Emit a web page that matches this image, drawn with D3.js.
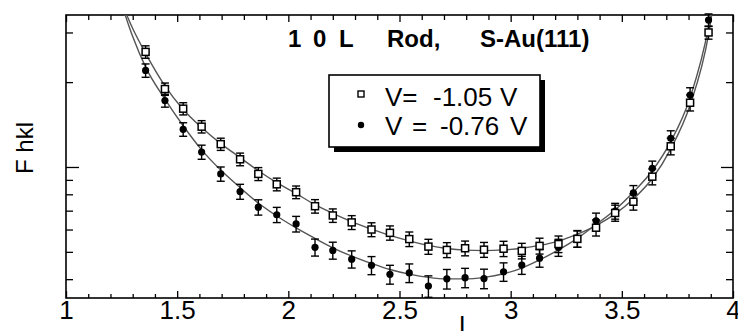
<!DOCTYPE html>
<html>
<head>
<meta charset="utf-8">
<script src="https://cdn.jsdelivr.net/npm/d3@7/dist/d3.min.js"></script>
<style>
  body { margin: 0; background: #fff; }
  text { font-family: "Liberation Sans", Arial, sans-serif; fill: #000; }
</style>
</head>
<body>
<script>
// measured points along the rod
var L = [1.358, 1.445, 1.527, 1.61, 1.696, 1.783, 1.865, 1.948, 2.035, 2.12, 2.2, 2.285,
  2.374, 2.457, 2.544, 2.63, 2.713, 2.795, 2.88, 2.968, 3.05, 3.13, 3.215, 3.3,
  3.384, 3.47, 3.552, 3.637, 3.72, 3.807, 3.89];

var fA = [25.6, 18.9, 16.1, 13.9, 12.05, 10.65, 9.45, 8.68, 8.14, 7.26, 6.73, 6.36,
  6.0, 5.84, 5.55, 5.22, 5.08, 5.15, 5.09, 5.13, 5.04, 5.25, 5.33, 5.56,
  6.09, 6.87, 7.53, 9.24, 11.84, 16.9, 30.0];
var eA = [1.3, 0.95, 0.8, 0.7, 0.6, 0.55, 0.5, 0.45, 0.42, 0.4, 0.37, 0.36,
  0.34, 0.34, 0.33, 0.32, 0.31, 0.31, 0.31, 0.32, 0.32, 0.34, 0.36, 0.37,
  0.4, 0.45, 0.5, 0.6, 0.8, 1.1, 1.6];

var fB = [22.0, 17.2, 13.6, 11.3, 9.45, 8.18, 7.2, 6.77, 6.28, 5.19, 5.06, 4.71,
  4.48, 4.16, 4.21, 3.78, 4.01, 4.05, 4.02, 4.25, 4.49, 4.75, 5.18, 5.57,
  6.44, 6.98, 8.09, 9.89, 12.64, 18.0, 33.2];
var eB = [1.2, 0.9, 0.75, 0.65, 0.55, 0.5, 0.45, 0.42, 0.4, 0.36, 0.35, 0.33,
  0.33, 0.32, 0.32, 0.33, 0.32, 0.32, 0.32, 0.32, 0.33, 0.34, 0.36, 0.38,
  0.42, 0.45, 0.5, 0.6, 0.8, 1.1, 1.7];

// fitted rod profiles
var fitL = [1.24, 1.3, 1.358, 1.445, 1.527, 1.61, 1.696, 1.783, 1.865, 1.948, 2.035, 2.12,
  2.2, 2.285, 2.374, 2.457, 2.544, 2.63, 2.713, 2.795, 2.88, 2.968, 3.05, 3.13,
  3.215, 3.3, 3.384, 3.47, 3.552, 3.637, 3.72, 3.807, 3.89, 3.92];
var fitA = [40, 31, 25.3, 19.4, 16.0, 13.8, 12.1, 10.8, 9.7, 8.8, 8.05, 7.35,
  6.85, 6.4, 6.02, 5.72, 5.47, 5.27, 5.14, 5.07, 5.05, 5.08, 5.15, 5.27,
  5.46, 5.78, 6.2, 6.82, 7.7, 9.1, 11.6, 16.6, 29.5, 42];
var fitB = [40, 29, 22.6, 17.4, 14.0, 11.5, 9.75, 8.45, 7.45, 6.7, 6.08, 5.58,
  5.17, 4.83, 4.55, 4.33, 4.17, 4.06, 4.01, 4.01, 4.06, 4.18, 4.38, 4.68,
  5.08, 5.58, 6.25, 7.05, 8.15, 9.7, 12.3, 17.6, 31.5, 44];

var xMajor = [1, 1.5, 2, 2.5, 3, 3.5, 4];
var xMinor = [1.1, 1.2, 1.3, 1.4, 1.6, 1.7, 1.8, 1.9, 2.1, 2.2, 2.3, 2.4, 2.6, 2.7, 2.8, 2.9,
  3.1, 3.2, 3.3, 3.4, 3.6, 3.7, 3.8, 3.9];
var yMajor = [10];
var yMinor = [4, 5, 6, 7, 8, 9, 20, 30];

var titleParts = ["1", "0", "L", "Rod,", "S-Au(111)"];
var legendParts = [["V=", "-1.05", "V"], ["V", "=", "-0.76", "V"]];

var margin = {top: 15, right: 5, bottom: 33, left: 66},
  width = 738 - margin.left - margin.right,
  height = 331 - margin.top - margin.bottom;

var x = d3.scaleLinear().domain([1, 4]).range([0, width]);
var y = d3.scaleLog().domain([3.43, 34.6]).range([height, 0]);

var svg = d3.select("body").append("svg")
  .attr("width", 738)
  .attr("height", 331)
  .append("g")
  .attr("transform", "translate(" + margin.left + "," + margin.top + ")");

svg.append("clipPath").attr("id", "clip")
  .append("rect").attr("width", width).attr("height", height);

function styleAxis(g) {
  g.select(".domain").remove();
  g.selectAll(".tick line").attr("stroke", "#000").attr("stroke-width", 1.3);
  g.selectAll(".tick text").attr("font-size", 26).attr("fill", "#000")
    .style("font-family", "'Liberation Sans', Arial, sans-serif");
}

// axes: ticks point inward on all four sides
svg.append("g").attr("transform", "translate(0," + height + ")")
  .call(d3.axisBottom(x).tickValues(xMajor).tickSize(-7).tickPadding(3).tickFormat(function(d) { return d; }))
  .call(styleAxis);
svg.append("g").attr("transform", "translate(0," + height + ")")
  .call(d3.axisBottom(x).tickValues(xMinor).tickSize(-4).tickFormat(""))
  .call(styleAxis);
svg.append("g")
  .call(d3.axisTop(x).tickValues(xMajor).tickSize(-7).tickFormat(""))
  .call(styleAxis);
svg.append("g")
  .call(d3.axisTop(x).tickValues(xMinor).tickSize(-5).tickFormat(""))
  .call(styleAxis);
svg.append("g")
  .call(d3.axisLeft(y).tickValues(yMajor).tickSize(-13).tickFormat(""))
  .call(styleAxis);
svg.append("g")
  .call(d3.axisLeft(y).tickValues(yMinor).tickSize(-7).tickFormat(""))
  .call(styleAxis);
svg.append("g").attr("transform", "translate(" + width + ",0)")
  .call(d3.axisRight(y).tickValues(yMajor).tickSize(-12).tickFormat(""))
  .call(styleAxis);
svg.append("g").attr("transform", "translate(" + width + ",0)")
  .call(d3.axisRight(y).tickValues(yMinor).tickSize(-7).tickFormat(""))
  .call(styleAxis);

svg.append("rect")
  .attr("width", width).attr("height", height)
  .attr("fill", "none").attr("stroke", "#000").attr("stroke-width", 1.6);

// fit curves
var line = d3.line()
  .x(function(d) { return x(d[0]); })
  .y(function(d) { return y(d[1]); })
  .curve(d3.curveMonotoneX);

[fitA, fitB].forEach(function(f) {
  svg.append("path")
    .datum(fitL.map(function(l, i) { return [l, f[i]]; }))
    .attr("clip-path", "url(#clip)")
    .attr("fill", "none")
    .attr("stroke", "#555")
    .attr("stroke-width", 1.4)
    .attr("d", line);
});

function errorBars(vals, errs) {
  var g = svg.append("g").attr("stroke", "#000").attr("stroke-width", 1.4);
  L.forEach(function(l, i) {
    var cx = x(l), y0 = y(vals[i] - errs[i]), y1 = y(vals[i] + errs[i]);
    g.append("line").attr("x1", cx).attr("x2", cx).attr("y1", y0).attr("y2", y1);
    g.append("line").attr("x1", cx - 4).attr("x2", cx + 4).attr("y1", y0).attr("y2", y0);
    g.append("line").attr("x1", cx - 4).attr("x2", cx + 4).attr("y1", y1).attr("y2", y1);
  });
}

errorBars(fB, eB);
errorBars(fA, eA);

svg.selectAll(".dotB")
  .data(L)
  .enter().append("circle")
  .attr("class", "dotB")
  .attr("cx", function(d) { return x(d); })
  .attr("cy", function(d, i) { return y(fB[i]); })
  .attr("r", 3.6)
  .attr("fill", "#000");

svg.selectAll(".sqA")
  .data(L)
  .enter().append("rect")
  .attr("class", "sqA")
  .attr("x", function(d) { return x(d) - 3.5; })
  .attr("y", function(d, i) { return y(fA[i]) - 3.5; })
  .attr("width", 7)
  .attr("height", 7)
  .attr("fill", "#fff")
  .attr("stroke", "#000")
  .attr("stroke-width", 1.5);

// title
var title = svg.append("text")
  .attr("y", 47 - margin.top)
  .attr("font-size", 24)
  .attr("font-weight", "bold");
var titleX = [288, 313, 339, 387, 480];
titleParts.forEach(function(p, i) {
  title.append("tspan").attr("x", titleX[i] - margin.left).text(p);
});

// legend
var lg = svg.append("g").attr("transform", "translate(" + (329 - margin.left) + "," + (75 - margin.top) + ")");
lg.append("rect").attr("x", 5).attr("y", 5).attr("width", 211).attr("height", 72).attr("fill", "#000");
lg.append("rect").attr("width", 211).attr("height", 72)
  .attr("fill", "#fff").attr("stroke", "#000").attr("stroke-width", 1.6);
lg.append("rect").attr("x", 29).attr("y", 16).attr("width", 6).attr("height", 6)
  .attr("fill", "#fff").attr("stroke", "#000").attr("stroke-width", 1.4);
lg.append("circle").attr("cx", 32).attr("cy", 50).attr("r", 3.2).attr("fill", "#000");
var legendX = [[56, 104, 171], [56, 83, 111, 181]];
var legendY = [31, 60];
legendParts.forEach(function(parts, r) {
  var t = lg.append("text").attr("y", legendY[r]).attr("font-size", 26);
  parts.forEach(function(p, i) {
    t.append("tspan").attr("x", legendX[r][i]).text(p);
  });
});

// axis titles
svg.append("text")
  .attr("transform", "translate(" + (33 - margin.left) + "," + (148 - margin.top) + ") rotate(-90)")
  .attr("text-anchor", "middle")
  .attr("font-size", 24)
  .text("F hkl");

svg.append("text")
  .attr("x", 466 - margin.left)
  .attr("y", 334 - margin.top)
  .attr("text-anchor", "middle")
  .attr("font-size", 25)
  .text("L");
</script>
</body>
</html>
